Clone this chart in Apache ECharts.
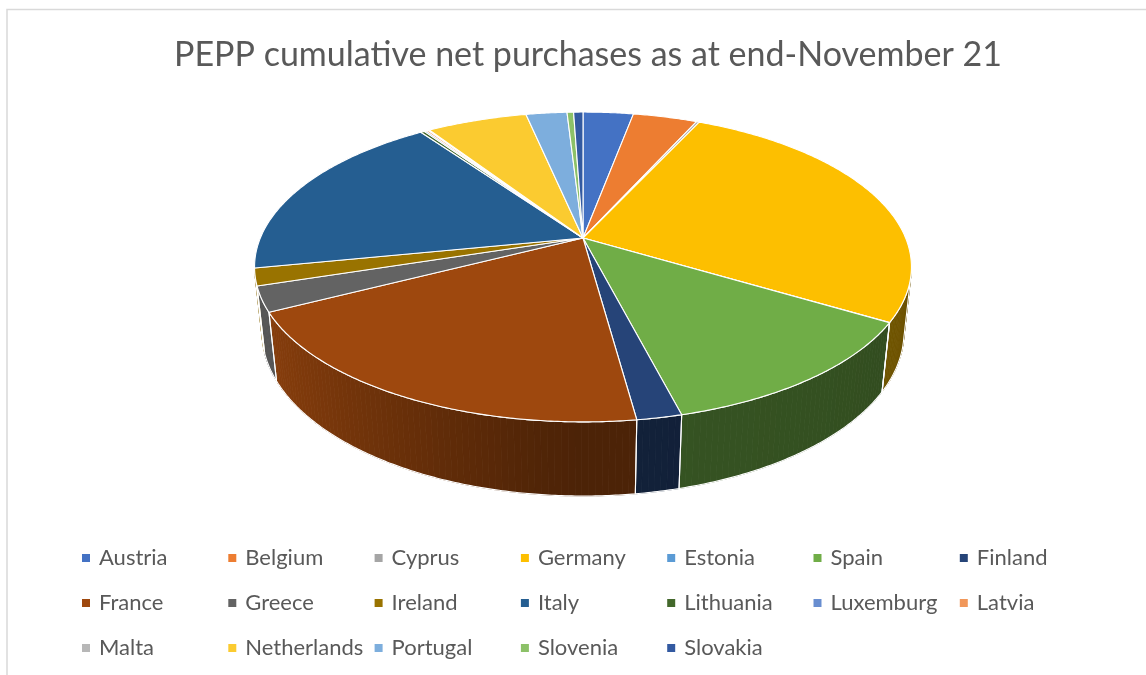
<!DOCTYPE html>
<html>
<head>
<meta charset="utf-8">
<script src="https://cdn.jsdelivr.net/npm/echarts@6/dist/echarts.min.js"></script>
<style>
  html, body { margin: 0; padding: 0; background: #ffffff; }
  #chart { width: 1146px; height: 675px; }
</style>
</head>
<body>
<div id="chart"></div>
<script>
// PEPP cumulative net purchases by country, EUR millions
const countries = ['Austria', 'Belgium', 'Cyprus', 'Germany', 'Estonia', 'Spain', 'Finland',
  'France', 'Greece', 'Ireland', 'Italy', 'Lithuania', 'Luxemburg', 'Latvia',
  'Malta', 'Netherlands', 'Portugal', 'Slovenia', 'Slovakia'];
const purchases = [43000, 55000, 2400, 386000, 300, 180000, 27000,
  285000, 38000, 26000, 265000, 3300, 1600, 2000,
  1100, 86000, 35000, 5600, 8000];
const sliceColors = ['#4472C4', '#ED7D31', '#A5A5A5', '#FDBF00', '#5B9BD5', '#70AD47', '#264478',
  '#9E480E', '#636363', '#997300', '#255E91', '#43682B', '#698ED0', '#F1975A',
  '#B7B7B7', '#FBCB30', '#7DAEDD', '#8CC168', '#335AA1'];
const legendColumns = 7;

// Perspective view of the pie disc (unit radius, top face at height 0)
const view = { cx: 583, cy: 238, focal: 1529, dist: 4.739, tilt: 27.6, depth: 0.2312 };
const sinT = Math.sin(view.tilt * Math.PI / 180);
const cosT = Math.cos(view.tilt * Math.PI / 180);

function project(deg, w) {
  const r = deg * Math.PI / 180;
  const u = Math.sin(r), v = Math.cos(r);
  const yc = v * sinT + w * cosT;
  const zc = v * cosT - w * sinT + view.dist;
  return [view.cx + view.focal * u / zc, view.cy - view.focal * yc / zc];
}

// Angular span of each slice, clockwise from 12 o'clock
const total = purchases.reduce((s, v) => s + v, 0);
let running = 0;
const sliceAngles = purchases.map(v => {
  const start = running / total * 360;
  running += v;
  return [start, running / total * 360];
});

// Outer wall faces the viewer only inside this range
const wallEdge = Math.acos(-1 / (view.dist * cosT)) * 180 / Math.PI;
const wallFrom = wallEdge - 0.5, wallTo = 360 - wallEdge + 0.5;

function shade(hex, k) {
  const n = parseInt(hex.slice(1), 16);
  const r = Math.round(((n >> 16) & 255) * k);
  const g = Math.round(((n >> 8) & 255) * k);
  const b = Math.round((n & 255) * k);
  return 'rgb(' + r + ',' + g + ',' + b + ')';
}

function wallLight(deg) {
  const r = deg * Math.PI / 180;
  return 0.40 + 0.47 * Math.pow(Math.max(0, -Math.sin(r)), 1.2) + 0.08 * Math.max(0, -Math.cos(r));
}

function arcPoints(a0, a1, w) {
  const n = Math.max(2, Math.ceil((a1 - a0) / 0.5));
  const pts = [];
  for (let i = 0; i <= n; i++) pts.push(project(a0 + (a1 - a0) * i / n, w));
  return pts;
}

function renderSlice(params, api) {
  const a0 = api.value(0), a1 = api.value(1);
  const color = api.visual('color');
  const children = [];

  // side wall, shaded strip by strip
  const w0 = Math.max(a0, wallFrom), w1 = Math.min(a1, wallTo);
  if (w1 > w0) {
    const n = Math.max(1, Math.ceil(w1 - w0));
    for (let i = 0; i < n; i++) {
      const t0 = w0 + (w1 - w0) * i / n, t1 = w0 + (w1 - w0) * (i + 1) / n;
      const c = shade(color, wallLight((t0 + t1) / 2));
      children.push({
        type: 'polygon', z2: 1,
        shape: { points: [project(t0, 0), project(t1, 0), project(t1, -view.depth), project(t0, -view.depth)] },
        style: { fill: c, stroke: c, lineWidth: 0.8 }
      });
    }
    const top = arcPoints(w0, w1, 0);
    const bottom = arcPoints(w0, w1, -view.depth).reverse();
    children.push({
      type: 'polygon', z2: 2,
      shape: { points: top.concat(bottom) },
      style: { fill: 'none', stroke: '#ffffff', lineWidth: 1.1 }
    });
  }

  // top face
  children.push({
    type: 'polygon', z2: 10,
    shape: { points: [[view.cx, view.cy]].concat(arcPoints(a0, a1, 0)) },
    style: { fill: color, stroke: '#ffffff', lineWidth: 1.1, lineJoin: 'round' }
  });
  return { type: 'group', children: children };
}

const chart = echarts.init(document.getElementById('chart'), null, { renderer: 'canvas' });

// one legend entry per cell of a 7-column grid
const legendCells = countries.map((name, i) => ({
  data: [name],
  orient: 'horizontal',
  left: 77 + (i % legendColumns) * 146.3,
  top: 542 + Math.floor(i / legendColumns) * 45,
  icon: 'rect',
  itemWidth: 8,
  itemHeight: 8,
  selectedMode: false,
  textStyle: { fontFamily: 'Lato', fontSize: 22, color: '#595959', padding: [0, 0, 0, 4] }
}));

chart.setOption({
  animation: false,
  backgroundColor: '#ffffff',
  title: {
    text: 'PEPP cumulative net purchases as at end-November 21',
    left: 583,
    textAlign: 'center',
    top: 33,
    textStyle: { fontFamily: 'Lato', fontSize: 34, fontWeight: 'normal', color: '#595959' }
  },
  legend: legendCells,
  graphic: [{
    type: 'rect', silent: true,
    shape: { x: 7, y: 9.5, width: 1170, height: 700 },
    style: { fill: 'none', stroke: '#d9d9d9', lineWidth: 1.5 }
  }],
  series: countries.map((name, i) => ({
    type: 'custom',
    name: name,
    coordinateSystem: 'none',
    silent: true,
    itemStyle: { color: sliceColors[i] },
    data: [sliceAngles[i]],
    renderItem: renderSlice
  }))
});
</script>
</body>
</html>
